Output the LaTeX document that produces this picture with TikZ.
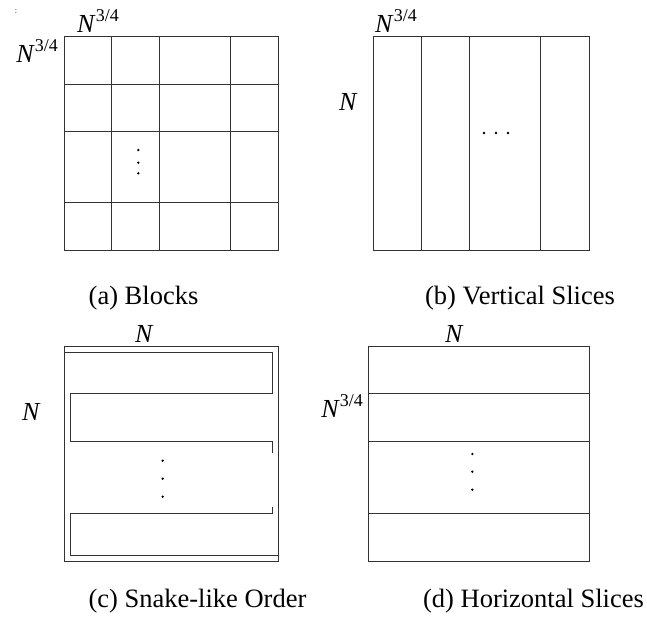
\documentclass[tikz,border=0pt]{standalone}
\usepackage{fontspec}
\setmainfont{Liberation Serif}
\tikzset{
  gridline/.style={line width=0.9pt, draw=black!80},
  lbl/.style={inner sep=0pt, anchor=base west, font=\fontsize{26}{30}\selectfont},
  lble/.style={inner sep=0pt, anchor=base east, font=\fontsize{26}{30}\selectfont},
  capt/.style={inner sep=0pt, anchor=base, font=\fontsize{26.5}{30}\selectfont},
  dotmark/.style={fill=black, draw=none}
}
\newcommand{\Nq}{\textit{N}\raisebox{0.42em}{\fontsize{18}{18}\selectfont 3/4}}
\begin{document}
\begin{tikzpicture}[x=1pt,y=-1pt]
\useasboundingbox (0,0) rectangle (647,621);
% tiny mark
\node[inner sep=0pt, anchor=base, font=\fontsize{8}{8}\selectfont] (colon) at (16,13) {:};
% (a) Blocks
\draw[gridline] (64,36) rectangle (278.3,250);
\foreach \x in {111.7,159.3,230.3} \draw[gridline] (\x,36) -- (\x,250);
\foreach \y in {84,131,202.7} \draw[gridline] (64,\y) -- (278.3,\y);
\foreach \y in {150,162.7,173.3} \fill[dotmark] (138.3,\y) circle (1.3);
\node[lbl] (atop) at (77,32) {\Nq};
\node[lble] (aleft) at (58,62) {\Nq};
\node[capt] (acap) at (143.5,304) {(a) Blocks};
% (b) Vertical Slices
\draw[gridline] (373.7,36) rectangle (589,250);
\foreach \x in {421.7,469.3,540.7} \draw[gridline] (\x,36) -- (\x,250);
\foreach \x in {484,496,508} \fill[dotmark] (\x,133) circle (1.3);
\node[lbl] (btop) at (375,32) {\Nq};
\node[lbl] (bleft) at (339,110) {\textit{N}};
\node[capt] (bcap) at (520,304) {(b) Vertical Slices};
% (c) Snake-like Order
\draw[gridline] (64,346.7) rectangle (278,561);
\draw[gridline] (64,352.3) -- (272.7,352.3) -- (272.7,393.7) -- (70,393.7) -- (70,441.3) -- (272.7,441.3) -- (272.7,453);
\draw[gridline] (272.7,507) -- (272.7,513.7) -- (70,513.7) -- (70,555) -- (278,555);
\foreach \y in {460.7,478.7,496.7} \fill[dotmark] (162.7,\y) circle (1.3);
\node[lbl] (ctop) at (135,342) {\textit{N}};
\node[lbl] (cleft) at (22,420) {\textit{N}};
\node[capt] (ccap) at (197.5,607) {(c) Snake-like Order};
% (d) Horizontal Slices
\draw[gridline] (368.3,346.7) rectangle (589,561);
\foreach \y in {393.7,441.7,513.3} \draw[gridline] (368.3,\y) -- (589,\y);
\foreach \y in {454,471.7,489.7} \fill[dotmark] (472.3,\y) circle (1.3);
\node[lbl] (dtop) at (445,342) {\textit{N}};
\node[lble] (dleft) at (363,417) {\Nq};
\node[capt] (dcap) at (533.5,607) {(d) Horizontal Slices};
\end{tikzpicture}
\end{document}
